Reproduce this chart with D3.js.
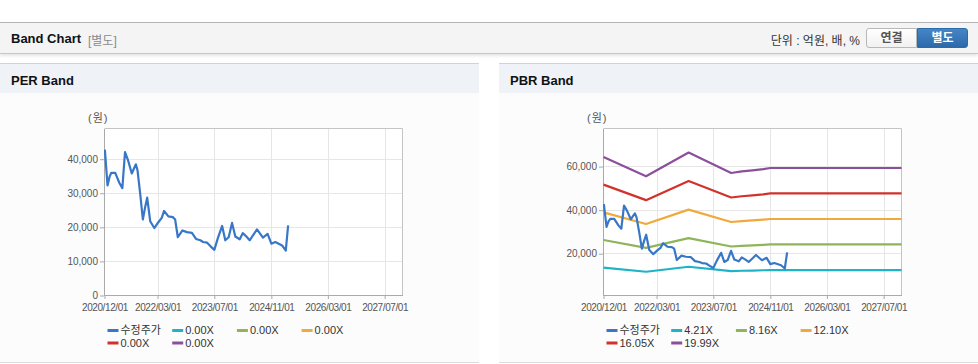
<!DOCTYPE html>
<html>
<head>
<meta charset="utf-8">
<script src="https://cdn.jsdelivr.net/npm/d3@7"></script>
<style>
  body { margin: 0; width: 978px; height: 364px; overflow: hidden; background: #fff; position: relative;
         font-family: "Liberation Sans", "Noto Sans CJK KR", sans-serif; }
  #bar { position: absolute; left: 0; top: 22px; width: 978px; height: 30px; background: #f4f4f4;
         border-top: 1px solid #b4b4b4; border-bottom: 1px solid #c6c6c6; box-shadow: 0 2px 3px rgba(0,0,0,0.10); }
  #bar .title { position: absolute; left: 11px; top: 8px; font-size: 13px; font-weight: bold; color: #111; }
  #bar .sub { position: absolute; left: 88px; top: 8px; font-size: 12px; color: #8a8a8a; }
  #bar .unit { position: absolute; right: 118px; top: 8px; font-size: 12px; color: #333; }
  .btn { position: absolute; top: 5px; width: 51px; height: 20px; box-sizing: border-box; font-size: 12px;
         font-weight: bold; text-align: center; line-height: 18px; }
  #b1 { left: 866px; border: 1px solid #b8b8b8; border-radius: 3px 0 0 3px; color: #555;
        background: linear-gradient(#ffffff, #f1f1f1); }
  #b2 { left: 917px; border: 1px solid #2d6aa8; border-radius: 0 3px 3px 0; color: #fff;
        background: linear-gradient(#4586c6, #2c69aa); }
  svg.panel { position: absolute; top: 63px; }
  svg text { font-family: "Liberation Sans", "Noto Sans CJK KR", sans-serif; }
</style>
</head>
<body>
<div id="bar">
  <span class="title">Band Chart</span>
  <span class="sub">[별도]</span>
  <span class="unit">단위 : 억원, 배, %</span>
  <div class="btn" id="b1">연결</div>
  <div class="btn" id="b2">별도</div>
</div>
<svg class="panel" id="per" width="479" height="301" style="left:0"></svg>
<svg class="panel" id="pbr" width="479" height="301" style="left:499px"></svg>
<script>
// ── Data ─────────────────────────────────
const xTickLabels = ['2020/12/01', '2022/03/01', '2023/07/01', '2024/11/01', '2026/03/01', '2027/07/01'];
const perYTicks = [0, 10000, 20000, 30000, 40000];
const pbrYTicks = [20000, 40000, 60000];

// 수정주가 (adjusted price)
const priceDates = [
  '2020-12-04', '2020-12-27', '2021-01-13', '2021-01-28', '2021-03-03', '2021-04-08', '2021-05-03',
  '2021-05-26', '2021-06-19', '2021-07-23', '2021-08-27', '2021-09-10', '2021-10-03', '2021-10-26',
  '2021-11-15', '2021-12-02', '2021-12-28', '2022-02-01', '2022-03-08', '2022-04-06', '2022-04-26',
  '2022-06-02', '2022-07-10', '2022-07-30', '2022-08-22', '2022-10-01', '2022-11-08', '2022-12-21',
  '2023-01-25', '2023-03-03', '2023-03-26', '2023-04-30', '2023-05-28', '2023-07-01', '2023-07-30',
  '2023-09-06', '2023-10-03', '2023-11-01', '2023-11-30', '2023-12-28', '2024-02-04', '2024-03-01',
  '2024-04-01', '2024-04-29', '2024-06-02', '2024-07-01', '2024-08-21', '2024-09-30', '2024-11-01',
  '2024-12-05', '2025-02-01', '2025-03-05', '2025-03-25'
];
const priceValues = [
  42800, 32300, 34800, 36000, 36000, 33000, 31500,
  42100, 39900, 35800, 38500, 36800, 29900, 22300,
  26000, 28700, 21800, 19800, 21500, 22800, 24800,
  23200, 23000, 22300, 17100, 19100, 18600, 18400,
  16600, 16200, 15700, 15500, 14500, 13400, 16700,
  20400, 16200, 17100, 21300, 17300, 16500, 18300,
  17300, 16200, 17900, 19400, 17000, 18100, 15200,
  15700, 14700, 13200, 20600
];

// band lines
const bandDates = ['2020-12-01', '2021-12-01', '2022-12-01', '2023-12-01', '2024-03-01',
                   '2024-06-01', '2024-09-01', '2024-11-01', '2027-12-01'];
const perBandNames = ['0.00X', '0.00X', '0.00X', '0.00X', '0.00X'];
const perBand1 = [0, 0, 0, 0, 0, 0, 0, 0, 0];
const perBand2 = [0, 0, 0, 0, 0, 0, 0, 0, 0];
const perBand3 = [0, 0, 0, 0, 0, 0, 0, 0, 0];
const perBand4 = [0, 0, 0, 0, 0, 0, 0, 0, 0];
const perBand5 = [0, 0, 0, 0, 0, 0, 0, 0, 0];

const pbrBandNames = ['4.21X', '8.16X', '12.10X', '16.05X', '19.99X'];
const pbrBand1 = [13570, 11700, 14000, 12020, 12170, 12270, 12400, 12500, 12500];
const pbrBand2 = [26300, 22680, 27130, 23300, 23580, 23790, 24030, 24240, 24240];
const pbrBand3 = [39000, 33630, 40230, 34550, 34970, 35270, 35630, 35940, 35940];
const pbrBand4 = [51730, 44600, 53370, 45820, 46380, 46790, 47270, 47670, 47670];
const pbrBand5 = [64430, 55550, 66470, 57070, 57770, 58270, 58870, 59370, 59370];

const colors = ['#3877c7', '#1eb3c6', '#8fb45a', '#f0a93c', '#d1322c', '#8c4f9c'];

// ── Drawing ──────────────────────────────
const parseDash = d3.timeParse('%Y-%m-%d');
const parseSlash = d3.timeParse('%Y/%m/%d');
const W = 479, H = 301;
const L = 104, R = 402, T = 65, B = 232;

function drawPanel(sel, title, yDomain, yTicks, bands, bandNames) {
  const svg = d3.select(sel);

  // header + body
  svg.append('rect').attr('x', 0).attr('y', 0).attr('width', W).attr('height', 1).attr('fill', '#d2d2d2');
  svg.append('rect').attr('x', 0).attr('y', 1).attr('width', W).attr('height', 29).attr('fill', '#eff2f7');
  svg.append('rect').attr('x', 0).attr('y', 30).attr('width', W).attr('height', 269).attr('fill', '#fcfcfc');
  svg.append('rect').attr('x', 0).attr('y', 299).attr('width', W).attr('height', 1).attr('fill', '#dcdcdc');
  svg.append('text').attr('x', 11).attr('y', 22).attr('font-size', 13).attr('font-weight', 'bold')
    .attr('fill', '#111').text(title);

  const x = d3.scaleTime()
    .domain([parseDash('2020-12-01'), parseDash('2027-12-01')])
    .range([L + 0.5, R + 0.5]);
  const y = d3.scaleLinear().domain(yDomain).range([B + 0.5, T + 0.5]);

  svg.append('rect').attr('x', L).attr('y', T).attr('width', R - L).attr('height', B - T).attr('fill', '#fff');

  // grid
  const xt = xTickLabels.map(parseSlash);
  svg.append('g').selectAll('line').data(xt.slice(1)).join('line')
    .attr('x1', d => Math.round(x(d)) + 0.5).attr('x2', d => Math.round(x(d)) + 0.5)
    .attr('y1', T).attr('y2', B).attr('stroke', '#e6e6e6');
  svg.append('g').selectAll('line').data(yTicks.filter(v => v > yDomain[0])).join('line')
    .attr('x1', L).attr('x2', R).attr('y1', d => Math.round(y(d) - 0.5) + 0.5).attr('y2', d => Math.round(y(d) - 0.5) + 0.5)
    .attr('stroke', '#e6e6e6');

  // frame
  svg.append('path').attr('d', `M${L + 0.5},${T + 0.5}H${R + 0.5}V${B + 0.5}`)
    .attr('fill', 'none').attr('stroke', '#c4c4c4');

  // axes
  const xAxis = svg.append('g').attr('transform', `translate(0,${B})`)
    .call(d3.axisBottom(x).tickValues(xt).tickFormat(d3.timeFormat('%Y/%m/%d')).tickSize(4).tickSizeOuter(0));
  xAxis.select('.domain').attr('stroke', '#aaa');
  xAxis.selectAll('.tick line').attr('stroke', '#aaa');
  xAxis.selectAll('.tick text').attr('y', 9).attr('font-size', 10).attr('letter-spacing', '-0.4px')
    .attr('fill', '#555').attr('font-family', '"Liberation Sans", sans-serif');

  const yAxis = svg.append('g').attr('transform', `translate(${L},0)`)
    .call(d3.axisLeft(y).tickValues(yTicks).tickFormat(d3.format(',')).tickSize(4).tickSizeOuter(0));
  yAxis.select('.domain').attr('stroke', '#aaa');
  yAxis.selectAll('.tick line').attr('stroke', '#aaa');
  yAxis.selectAll('.tick text').attr('x', -6).attr('font-size', 10)
    .attr('fill', '#555').attr('font-family', '"Liberation Sans", sans-serif');

  svg.append('text').attr('x', 88).attr('y', 59).attr('font-size', 11).attr('fill', '#555')
    .attr('letter-spacing', '1px').text('(원)');

  // lines
  const clipId = sel.slice(1) + '-clip';
  svg.append('clipPath').attr('id', clipId).append('rect')
    .attr('x', L).attr('y', T).attr('width', R - L + 1).attr('height', B - T + 1);
  const g = svg.append('g').attr('clip-path', `url(#${clipId})`);

  const bd = bandDates.map(parseDash);
  const bandLine = d3.line().defined(d => d[1] > 0).x(d => x(d[0])).y(d => y(d[1]));
  bands.forEach((vals, i) => {
    g.append('path').datum(vals.map((v, j) => [bd[j], v]))
      .attr('fill', 'none').attr('stroke', colors[i + 1]).attr('stroke-width', 2.2)
      .attr('stroke-linejoin', 'round').attr('d', bandLine);
  });

  const priceLine = d3.line().x(d => x(d[0])).y(d => y(d[1]));
  g.append('path').datum(priceDates.map((d, j) => [parseDash(d), priceValues[j]]))
    .attr('fill', 'none').attr('stroke', colors[0]).attr('stroke-width', 2.2)
    .attr('stroke-linejoin', 'round').attr('d', priceLine);

  // legend
  const names = ['수정주가'].concat(bandNames);
  const lg = svg.append('g').selectAll('g').data(names).join('g')
    .attr('transform', (d, i) => `translate(${107.5 + (i % 4) * 64.7},${i < 4 ? 267.5 : 280})`);
  lg.append('line').attr('x1', 0).attr('x2', 11).attr('y1', 0).attr('y2', 0)
    .attr('stroke', (d, i) => colors[i]).attr('stroke-width', 3);
  lg.append('text').attr('x', 13).attr('y', 0).attr('dy', '0.36em').attr('font-size', 11)
    .attr('fill', '#333').text(d => d);
}

drawPanel('#per', 'PER Band', [0, 49000], perYTicks,
  [perBand1, perBand2, perBand3, perBand4, perBand5], perBandNames);
drawPanel('#pbr', 'PBR Band', [800, 77500], pbrYTicks,
  [pbrBand1, pbrBand2, pbrBand3, pbrBand4, pbrBand5], pbrBandNames);
</script>
</body>
</html>
